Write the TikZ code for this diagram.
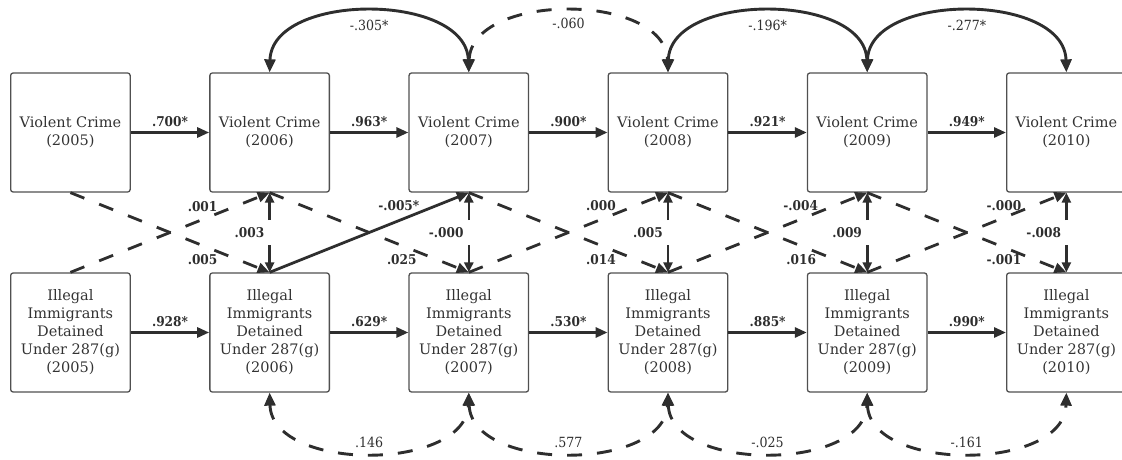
\documentclass[tikz,border=0pt]{standalone}
\usepackage{fontspec}
\setmainfont{DejaVu Serif}
\newfontfamily\labfont[FakeStretch=0.9]{DejaVu Serif}
\usetikzlibrary{arrows.meta}
\definecolor{ln}{HTML}{2E2E2E}
\definecolor{bx}{HTML}{505050}
\definecolor{tx}{HTML}{333333}
\begin{document}
\begin{tikzpicture}[x=1pt,y=-1pt,
  box/.style={draw=bx, line width=1.3pt, rounded corners=2.5pt, minimum width=119.5pt,
    minimum height=119pt, inner sep=0pt, align=center, text=tx,
    font=\fontsize{14.5}{18}\selectfont},
  solidarr/.style={draw=ln, line width=2.8pt, -{Triangle[length=12pt,width=10pt]}},
  dasharr/.style={solidarr, dash pattern=on 15pt off 16pt},
  biarr/.style={draw=ln, line width=2.9pt, {Triangle[length=13pt,width=11pt]}-{Triangle[length=13pt,width=11pt]}},
  bidash/.style={biarr, dash pattern=on 15pt off 15pt},
  varr/.style={draw=ln, line width=2.6pt, -{Triangle[length=10pt,width=9pt]}},
  boldlab/.style={font={\labfont\fontsize{13.5}{15}\selectfont\bfseries}, text=ln, inner sep=1pt},
  hlab/.style={boldlab, yshift=11pt},
  alab/.style={font={\labfont\fontsize{14}{16}\selectfont}, text=ln, inner sep=1pt}
]
\useasboundingbox (0,0) rectangle (1122,460);
\begin{scope}
\clip (0,0) rectangle (1122,460);
% top row
\node[box] (t1) at (70.4,132.5) {Violent Crime\\(2005)};
\node[box] (t2) at (269.6,132.5) {Violent Crime\\(2006)};
\node[box] (t3) at (468.8,132.5) {Violent Crime\\(2007)};
\node[box] (t4) at (668.0,132.5) {Violent Crime\\(2008)};
\node[box] (t5) at (867.2,132.5) {Violent Crime\\(2009)};
\node[box] (t6) at (1066.4,132.5) {Violent Crime\\(2010)};
% bottom row
\node[box] (b1) at (70.4,332.5) {Illegal\\Immigrants\\Detained\\Under 287(g)\\(2005)};
\node[box] (b2) at (269.6,332.5) {Illegal\\Immigrants\\Detained\\Under 287(g)\\(2006)};
\node[box] (b3) at (468.8,332.5) {Illegal\\Immigrants\\Detained\\Under 287(g)\\(2007)};
\node[box] (b4) at (668.0,332.5) {Illegal\\Immigrants\\Detained\\Under 287(g)\\(2008)};
\node[box] (b5) at (867.2,332.5) {Illegal\\Immigrants\\Detained\\Under 287(g)\\(2009)};
\node[box] (b6) at (1066.4,332.5) {Illegal\\Immigrants\\Detained\\Under 287(g)\\(2010)};

% horizontal paths
\draw[solidarr] (t1) -- (t2) node[midway, hlab] {.700*};
\draw[solidarr] (t2) -- (t3) node[midway, hlab] {.963*};
\draw[solidarr] (t3) -- (t4) node[midway, hlab] {.900*};
\draw[solidarr] (t4) -- (t5) node[midway, hlab] {.921*};
\draw[solidarr] (t5) -- (t6) node[midway, hlab] {.949*};
\draw[solidarr] (b1) -- (b2) node[midway, hlab] {.928*};
\draw[solidarr] (b2) -- (b3) node[midway, hlab] {.629*};
\draw[solidarr] (b3) -- (b4) node[midway, hlab] {.530*};
\draw[solidarr] (b4) -- (b5) node[midway, hlab] {.885*};
\draw[solidarr] (b5) -- (b6) node[midway, hlab] {.990*};

% top arcs
\draw[biarr] (t2.north) .. controls (272,-8) and (466,-8) .. (t3.north);
\draw[bidash] (t3.north) .. controls (471,-8) and (665,-8) .. (t4.north);
\draw[biarr] (t4.north) .. controls (670,-8) and (865,-8) .. (t5.north);
\draw[biarr] (t5.north) .. controls (869,-8) and (1064,-8) .. (t6.north);
\node[alab] (a1) at (369.2,25) {-.305*};
\node[alab] (a2) at (568.4,23) {-.060};
\node[alab] (a3) at (767.6,25) {-.196*};
\node[alab] (a4) at (966.8,25) {-.277*};

% bottom arcs
\draw[bidash] (b2.south) .. controls (272,472) and (466,472) .. (b3.south);
\draw[bidash] (b3.south) .. controls (471,472) and (665,472) .. (b4.south);
\draw[bidash] (b4.south) .. controls (670,472) and (865,472) .. (b5.south);
\draw[bidash] (b5.south) .. controls (869,472) and (1064,472) .. (b6.south);
\node[alab] (c1) at (369.2,442) {.146};
\node[alab] (c2) at (568.4,442) {.577};
\node[alab] (c3) at (767.6,442) {-.025};
\node[alab] (c4) at (966.8,442) {-.161};

% cross-lagged paths
\draw[dasharr] (t1.south) -- (b2.north);
\draw[dasharr] (b1.north) -- (t2.south);
\draw[dasharr] (t2.south) -- (b3.north);
\draw[solidarr] (b2.north) -- (t3.south);
\draw[dasharr] (t3.south) -- (b4.north);
\draw[dasharr] (b3.north) -- (t4.south);
\draw[dasharr] (t4.south) -- (b5.north);
\draw[dasharr] (b4.north) -- (t5.south);
\draw[dasharr] (t5.south) -- (b6.north);
\draw[dasharr] (b5.north) -- (t6.south);
\node[boldlab, anchor=east] (x1u) at (218.6,207) {.001};
\node[boldlab, anchor=east] (x1d) at (218.6,260) {.005};
\node[boldlab, anchor=east] (x2u) at (420.5,206) {-.005*};
\node[boldlab, anchor=east] (x2d) at (417.8,260) {.025};
\node[boldlab, anchor=east] (x3u) at (617.0,206) {.000};
\node[boldlab, anchor=east] (x3d) at (617.0,260) {.014};
\node[boldlab, anchor=east] (x4u) at (819.2,206) {-.004};
\node[boldlab, anchor=east] (x4d) at (817.2,260) {.016};
\node[boldlab, anchor=east] (x5u) at (1022.4,206) {-.000};
\node[boldlab, anchor=east] (x5d) at (1022.4,260) {-.001};

% vertical (contemporaneous) paths
\coordinate (v2u) at (269.6,220); \coordinate (v2d) at (269.6,245);
\coordinate (v3u) at (468.8,220); \coordinate (v3d) at (468.8,245);
\coordinate (v4u) at (668.0,220); \coordinate (v4d) at (668.0,245);
\coordinate (v5u) at (867.2,220); \coordinate (v5d) at (867.2,245);
\coordinate (v6u) at (1066.4,220); \coordinate (v6d) at (1066.4,245);
\draw[varr] (v2u) -- (t2.south); \draw[varr] (v2d) -- (b2.north);
\draw[varr] (v3u) -- (t3.south); \draw[varr] (v3d) -- (b3.north);
\draw[varr] (v4u) -- (t4.south); \draw[varr] (v4d) -- (b4.north);
\draw[varr] (v5u) -- (t5.south); \draw[varr] (v5d) -- (b5.north);
\draw[varr] (v6u) -- (t6.south); \draw[varr] (v6d) -- (b6.north);
\node[boldlab, anchor=east] (m2) at (265.5,232.7) {.003};
\node[boldlab, anchor=east] (m3) at (464.7,232.7) {-.000};
\node[boldlab, anchor=east] (m4) at (663.9,232.7) {.005};
\node[boldlab, anchor=east] (m5) at (863.1,232.7) {.009};
\node[boldlab, anchor=east] (m6) at (1062.3,232.7) {-.008};
\end{scope}
\end{tikzpicture}
\end{document}
